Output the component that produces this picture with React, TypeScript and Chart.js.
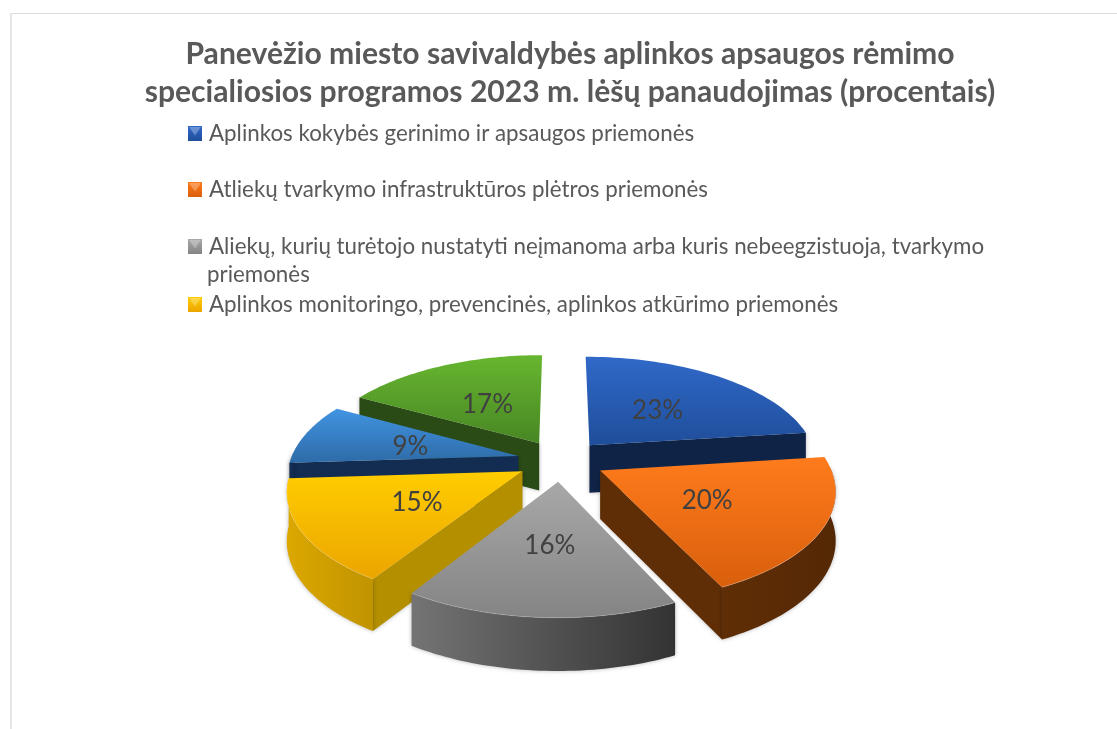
import React, { useEffect, useRef } from "react";
import { Chart, registerables } from "chart.js";

Chart.register(...registerables);

const titleLines = [
  "Panevėžio miesto savivaldybės aplinkos apsaugos rėmimo",
  "specialiosios programos 2023 m. lėšų panaudojimas (procentais)",
];
const legendLines = [
  ["Aplinkos kokybės gerinimo ir apsaugos priemonės"],
  ["Atliekų tvarkymo infrastruktūros plėtros priemonės"],
  ["Aliekų, kurių turėtojo nustatyti neįmanoma arba kuris nebeegzistuoja, tvarkymo", "priemonės"],
  ["Aplinkos monitoringo, prevencinės, aplinkos atkūrimo priemonės"],
];
const legendY = [134, 190, 247, 305];
const sliceValues = [23, 20, 16, 15, 9, 17];
const topLight = ["#3069c9", "#ff7b1c", "#a8a8a8", "#ffcd00", "#4194e2", "#67b62f"];
const topDark = ["#1f4e9a", "#d95f0c", "#848484", "#eca500", "#2e6ba8", "#488624"];
const wallColor = ["#0f2347", "#5f2e06", "#555555", "#b48f00", "#122c52", "#2a4b16"];
const rimLeft = ["#0f2347", "#5f2e06", "#747474", "#dca800", "#122c52", "#2a4b16"];
const rimRight = ["#0f2347", "#552805", "#333333", "#c09300", "#122c52", "#2a4b16"];

const CX = 561;
const CY = 460.5;
const RADIUS = 228;
const TILT = 107 / RADIUS;
const PERSP = 0.158;
const DEPTH = 48;
const LABEL_F = 0.5;

function project(R: number, X: number, Y: number, z = 0) {
  const w = 1 / (1 - PERSP * Y);
  return { x: CX + R * X * w, y: CY + R * TILT * Y * w + z * Math.sqrt(w) };
}

function poly(ctx: CanvasRenderingContext2D, pts: { x: number; y: number }[]) {
  ctx.beginPath();
  pts.forEach((p, i) => (i ? ctx.lineTo(p.x, p.y) : ctx.moveTo(p.x, p.y)));
  ctx.closePath();
}

const pie3d = {
  id: "pie3d",
  beforeDraw(chart: any) {
    const ctx = chart.ctx;
    ctx.save();
    ctx.fillStyle = "#ffffff";
    ctx.fillRect(0, 0, chart.width, chart.height);
    ctx.fillStyle = "#dcdcdc";
    ctx.fillRect(10, 13, chart.width - 10, 1);
    ctx.fillStyle = "#e6e6e6";
    ctx.fillRect(10, 13, 2, chart.height - 13);
    ctx.restore();
  },
  beforeDatasetDraw(chart: any) {
    const ctx: CanvasRenderingContext2D = chart.ctx;
    const arcs = chart.getDatasetMeta(0).data as any[];
    const items = arcs.map((arc, i) => {
      const mid = (arc.startAngle + arc.endAngle) / 2;
      const R = arc.outerRadius;
      const off = arc.options.offset / R;
      return { i, arc, mid, R, ox: off * Math.cos(mid), oy: off * Math.sin(mid) };
    });
    items.sort((a, b) => a.oy - b.oy);
    ctx.save();
    for (const s of items) {
      const { i, arc, mid, R, ox, oy } = s;
      const a0 = arc.startAngle;
      const a1 = arc.endAngle;
      const at = (th: number, z = 0, f = 1) => project(R, ox + f * Math.cos(th), oy + f * Math.sin(th), z);
      const apex = project(R, ox, oy);
      const apexB = project(R, ox, oy, DEPTH);
      const inner = at(mid, 0, 0.5);
      ctx.shadowColor = "rgba(0,0,0,0.28)";
      ctx.shadowBlur = 4;
      for (const th of [a0, a1]) {
        const e = at(th);
        const ex = e.x - apex.x;
        const ey = e.y - apex.y;
        const len = Math.hypot(ex, ey);
        const c1 = ex;
        const c2 = ex * (inner.y - apex.y) - ey * (inner.x - apex.x);
        if (Math.abs(ex) / len > 0.1 && c1 * c2 < 0) {
          poly(ctx, [apex, e, at(th, DEPTH), apexB]);
          ctx.fillStyle = wallColor[i];
          ctx.fill();
        }
      }
      let lo = a0;
      let hi = a1;
      const back = 0.04;
      const tau = Math.PI * 2;
      while (lo > Math.PI) { lo -= tau; hi -= tau; }
      const vLo = Math.max(lo, -back);
      const vHi = Math.min(hi, Math.PI + back);
      const steps = 48;
      const topArc: { x: number; y: number }[] = [];
      for (let k = 0; k <= steps; k++) topArc.push(at(a0 + ((a1 - a0) * k) / steps));
      if (vHi > vLo) {
        const up: any[] = [];
        const down: any[] = [];
        for (let k = 0; k <= steps; k++) {
          const th = vLo + ((vHi - vLo) * k) / steps;
          up.push(at(th));
          down.push(at(th, DEPTH));
        }
        const xs = up.map((p) => p.x);
        const g = ctx.createLinearGradient(Math.min(...xs), 0, Math.max(...xs), 0);
        g.addColorStop(0, rimLeft[i]);
        g.addColorStop(1, rimRight[i]);
        poly(ctx, [...up, ...down.reverse()]);
        ctx.fillStyle = g;
        ctx.fill();
      }
      ctx.shadowColor = "transparent";
      ctx.shadowBlur = 0;
      const pts = [apex, ...topArc];
      const ys = pts.map((p) => p.y);
      const g = ctx.createLinearGradient(0, Math.min(...ys), 0, Math.max(...ys));
      g.addColorStop(0, topLight[i]);
      g.addColorStop(1, topDark[i]);
      poly(ctx, pts);
      ctx.fillStyle = g;
      ctx.fill();
      if (vHi > vLo) {
        ctx.beginPath();
        for (let k = 0; k <= 40; k++) {
          const p = at(vLo + ((vHi - vLo) * k) / 40);
          k ? ctx.lineTo(p.x, p.y) : ctx.moveTo(p.x, p.y);
        }
        ctx.strokeStyle = "rgba(255,255,255,0.2)";
        ctx.lineWidth = 1;
        ctx.stroke();
      }
    }
    ctx.restore();
    return false;
  },
  afterDatasetsDraw(chart: any) {
    const ctx: CanvasRenderingContext2D = chart.ctx;
    const arcs = chart.getDatasetMeta(0).data as any[];
    const total = sliceValues.reduce((a, b) => a + b, 0);
    ctx.save();
    ctx.font = '26px Lato';
    ctx.fillStyle = "#404040";
    ctx.textAlign = "center";
    ctx.textBaseline = "middle";
    arcs.forEach((arc, i) => {
      const mid = (arc.startAngle + arc.endAngle) / 2;
      const R = arc.outerRadius;
      const off = arc.options.offset / R;
      const f = off + LABEL_F;
      const p = project(R, f * Math.cos(mid), f * Math.sin(mid));
      ctx.fillText(Math.round((sliceValues[i] / total) * 100) + "%", p.x, p.y + 2);
    });
    ctx.textAlign = "left";
    ctx.font = '22.35px Lato';
    legendLines.forEach((lines, i) => {
      const y = legendY[i];
      const x0 = 188;
      const w = 14;
      const h = 15;
      const t = y - 8;
      const g = ctx.createLinearGradient(0, t, 0, t + h);
      g.addColorStop(0, topLight[i]);
      g.addColorStop(1, topDark[i]);
      ctx.fillStyle = g;
      ctx.fillRect(x0, t, w, h);
      ctx.fillStyle = "rgba(255,255,255,0.28)";
      ctx.beginPath();
      ctx.moveTo(x0 + 1, t + 1);
      ctx.lineTo(x0 + w - 1, t + 1);
      ctx.lineTo(x0 + w / 2, t + h / 2 + 2);
      ctx.closePath();
      ctx.fill();
      ctx.fillStyle = "#595959";
      ctx.fillText(lines[0], 209, y);
      if (lines[1]) ctx.fillText(lines[1], 207, y + 28);
    });
    ctx.restore();
  },
};

export default function App() {
  const ref = useRef<HTMLCanvasElement>(null);
  useEffect(() => {
    const chart = new Chart(ref.current!, {
      type: "pie",
      data: {
        labels: legendLines.map((l) => l.join(" ")),
        datasets: [
          {
            data: sliceValues,
            backgroundColor: topLight,
            offset: 44,
            borderWidth: 0,
          },
        ],
      },
      options: {
        responsive: false,
        animation: false,
        radius: RADIUS,
        layout: { padding: { left: 23, right: 0, top: 35, bottom: 0 } },
        plugins: {
          legend: { display: false },
          tooltip: { enabled: false },
          title: {
            display: true,
            text: titleLines,
            color: "#595959",
            font: { family: "Lato", size: 30.1, weight: "bold", lineHeight: 1.265 },
            padding: 0,
          },
        },
      },
      plugins: [pie3d],
    } as any);
    return () => chart.destroy();
  }, []);
  return (
    <div style={{ position: "fixed", left: 0, top: 0, width: 1117, height: 729, overflow: "hidden", background: "#fff" }}>
      <canvas ref={ref} width={1117} height={729} style={{ display: "block" }} />
    </div>
  );
}
